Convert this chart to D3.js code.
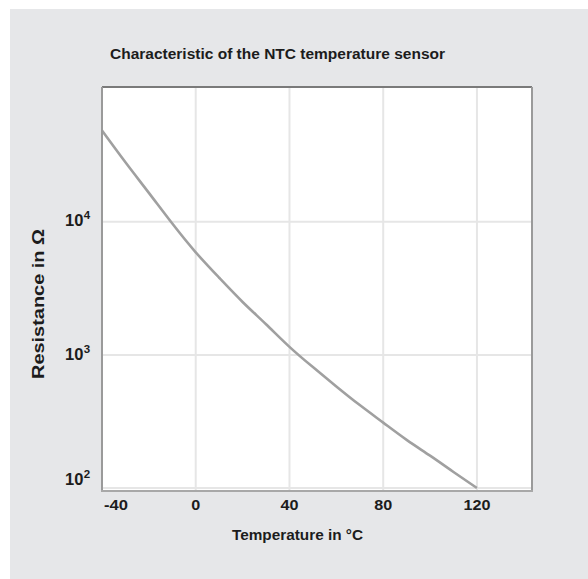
<!DOCTYPE html>
<html><head><meta charset="utf-8">
<script src="https://cdn.jsdelivr.net/npm/d3@7"></script>
<style>body{margin:0;background:#fff}svg{display:block}text{font-family:"Liberation Sans",Arial,sans-serif;font-weight:bold;fill:#1c1c1c}</style>
</head><body>
<script>
const temperatures = [-40,-30,-20,-10,0,10,20,30,40,50,60,70,80,90,100,110,120];
const resistances = [48500,28000,16500,9700,5900,3800,2500,1700,1150,810,580,420,310,230,175,132,100];
const xTicks = [-40,0,40,80,120];
const yTicks = [100,1000,10000];
const yTickExp = ["2","3","4"];
const title = "Characteristic of the NTC temperature sensor";
const xTitle = "Temperature in °C";
const yTitle = "Resistance in Ω";

const W=588,H=579;
const svg=d3.select("body").append("svg").attr("width",W).attr("height",H);
svg.append("rect").attr("x",10).attr("y",9).attr("width",W-10).attr("height",H-9).attr("fill","#e6e7e9");
const L=102,R=532,T=87,B=491;
const x=d3.scaleLinear().domain([-40,143.5]).range([L,R]);
const y=d3.scaleLog().domain([95,103000]).range([B,T]);
svg.append("rect").attr("x",L).attr("y",T).attr("width",R-L).attr("height",B-T).attr("fill","#fff");
// grid
svg.append("g").selectAll("line").data(xTicks.slice(1)).join("line")
  .attr("x1",d=>x(d)).attr("x2",d=>x(d)).attr("y1",T).attr("y2",B)
  .attr("stroke","#e6e6e6").attr("stroke-width",2);
svg.append("g").selectAll("line").data(yTicks).join("line")
  .attr("x1",L).attr("x2",R).attr("y1",d=>y(d)).attr("y2",d=>y(d))
  .attr("stroke","#e6e6e6").attr("stroke-width",2);
// curve
const line=d3.line().x((d,i)=>x(temperatures[i])).y(d=>y(d)).curve(d3.curveNatural);
svg.append("path").datum(resistances).attr("d",line).attr("fill","none")
  .attr("stroke","#a0a0a0").attr("stroke-width",2.6);
// frame
svg.append("line").attr("x1",L).attr("x2",R).attr("y1",T).attr("y2",T).attr("stroke","#7a7a7a").attr("stroke-width",2);
svg.append("line").attr("x1",L).attr("x2",L).attr("y1",T).attr("y2",B).attr("stroke","#9a9a9a").attr("stroke-width",2);
svg.append("line").attr("x1",R).attr("x2",R).attr("y1",T).attr("y2",B).attr("stroke","#9a9a9a").attr("stroke-width",2);
svg.append("line").attr("x1",L-1).attr("x2",R+1).attr("y1",B).attr("y2",B).attr("stroke","#a8a8a8").attr("stroke-width",2);
// x tick labels
svg.append("g").selectAll("text").data(xTicks).join("text")
  .attr("x",(d,i)=>x(d)+(i===0?14:0)).attr("y",509.5)
  .attr("text-anchor","middle").attr("font-size",15.5)
  .attr("textLength",d=>String(d).replace("-","").length*9+(d<0?6:0))
  .attr("lengthAdjust","spacingAndGlyphs").text(d=>d);
// y tick labels
const yOff=[-3,5,4];
const yl=svg.append("g").selectAll("text").data(yTicks).join("text")
  .attr("x",65).attr("y",(d,i)=>y(d)+yOff[i])
  .attr("font-size",16.5).text("10");
yl.append("tspan").attr("font-size",11.5).attr("dy",-7).attr("dx",0.5).text((d,i)=>yTickExp[i]);
// titles
svg.append("text").attr("x",277.5).attr("y",59).attr("text-anchor","middle").attr("font-size",14.5)
  .attr("textLength",335).attr("lengthAdjust","spacingAndGlyphs").text(title);
svg.append("text").attr("x",297.5).attr("y",540).attr("text-anchor","middle").attr("font-size",15)
  .attr("textLength",131).attr("lengthAdjust","spacingAndGlyphs").text(xTitle);
svg.append("text").attr("transform","translate(44,304) rotate(-90)").attr("text-anchor","middle").attr("font-size",17)
  .attr("textLength",150).attr("lengthAdjust","spacingAndGlyphs").text(yTitle);
</script>
</body></html>
